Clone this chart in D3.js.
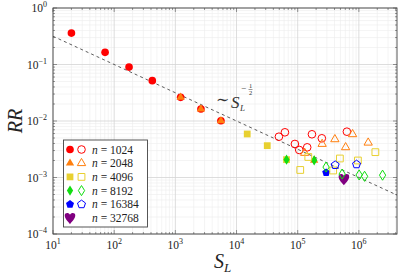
<!DOCTYPE html>
<html>
<head>
<meta charset="utf-8">
<script src="https://cdn.jsdelivr.net/npm/d3@7"></script>
<style>
  body { margin: 0; background: #fff; }
</style>
</head>
<body>
<svg id="chart" width="398" height="276" font-family="'Liberation Serif', 'DejaVu Serif', serif"></svg>
<script>
// data: [S_L, RR]
const n1024Filled = [[20, 0.36], [71, 0.164], [175, 0.090], [420, 0.0517], [1220, 0.0262], [2620, 0.0163], [5560, 0.0101]];
const n1024Open = [[49300, 0.00527], [61800, 0.00631], [90000, 0.00392], [106000, 0.00307], [143000, 0.00342], [171000, 0.00582], [248000, 0.00494], [637000, 0.00647]];
const n2048Filled = [[1220, 0.0262], [2620, 0.0163], [5560, 0.0101], [186000, 0.00201]];
const n2048Open = [[130000, 0.00272], [251000, 0.00392], [405000, 0.00474], [607000, 0.00342], [789000, 0.00582], [1420000, 0.00413]];
const n4096Filled = [[14960, 0.00589], [31800, 0.00366], [65700, 0.00207]];
const n4096Open = [[110000, 0.00136], [149000, 0.00231], [380000, 0.00133], [489000, 0.00217], [964000, 0.00200], [1860000, 0.00281]];
const n8192Filled = [[65700, 0.00207], [186000, 0.00201]];
const n8192Open = [[291000, 0.00153], [533000, 0.00115], [1010000, 0.00111], [1240000, 0.00105], [2440000, 0.00110]];
const n16384Filled = [[292000, 0.00122]];
const n16384Open = [[410000, 0.00166], [916000, 0.00171]];
const n32768Filled = [[569000, 0.00094]];

const legendLabels = ['1024', '2048', '4096', '8192', '16384', '32768'];
const xTickExps = [1, 2, 3, 4, 5, 6];
const yTickExps = [0, -1, -2, -3, -4];

const svg = d3.select('#chart');
const pLeft = 53, pRight = 397, pTop = 8, pBottom = 234;

const x = d3.scaleLog().domain([10, 4.2e6]).range([pLeft, pRight]);
const y = d3.scaleLog().domain([1e-4, 1]).range([pBottom, pTop]);

// custom symbols
const pentagon = {
  draw(ctx, size) {
    const r = Math.sqrt(size / 2.38);
    for (let i = 0; i < 5; i++) {
      const a = -Math.PI / 2 + i * 2 * Math.PI / 5;
      const px = r * Math.cos(a), py = r * Math.sin(a);
      if (i === 0) ctx.moveTo(px, py); else ctx.lineTo(px, py);
    }
    ctx.closePath();
  },
};
const thinDiamond = {
  draw(ctx, size) {
    const h = Math.sqrt(size) * 0.8, w = h * 0.62;
    ctx.moveTo(0, -h); ctx.lineTo(w, 0); ctx.lineTo(0, h); ctx.lineTo(-w, 0); ctx.closePath();
  },
};
const heart = {
  draw(ctx, size) {
    const s = Math.sqrt(size) / 9;
    ctx.moveTo(0, 6 * s);
    ctx.bezierCurveTo(-2 * s, 3 * s, -5 * s, 1 * s, -5 * s, -2.5 * s);
    ctx.bezierCurveTo(-5 * s, -5.5 * s, -1 * s, -5.5 * s, 0, -3 * s);
    ctx.bezierCurveTo(1 * s, -5.5 * s, 5 * s, -5.5 * s, 5 * s, -2.5 * s);
    ctx.bezierCurveTo(5 * s, 1 * s, 2 * s, 3 * s, 0, 6 * s);
    ctx.closePath();
  },
};

const series = [
  { filled: n1024Filled, open: n1024Open, color: '#ff0000', type: d3.symbolCircle, size: 46 },
  { filled: n2048Filled, open: n2048Open, color: '#ff7f0e', type: d3.symbolTriangle, size: 30 },
  { filled: n4096Filled, open: n4096Open, color: '#e8d030', type: d3.symbolSquare, size: 46 },
  { filled: n8192Filled, open: n8192Open, color: '#11dd11', type: thinDiamond, size: 40 },
  { filled: n16384Filled, open: n16384Open, color: '#0000ff', type: pentagon, size: 42 },
  { filled: n32768Filled, open: [], color: '#800080', type: heart, size: 90 },
];

// grid
const grid = svg.append('g');
const xMinor = [];
for (let e = 1; e <= 6; e++) for (let m = 2; m <= 9; m++) if (m * 10 ** e <= 4.2e6) xMinor.push(m * 10 ** e);
const yMinor = [];
for (let e = -4; e < 0; e++) for (let m = 2; m <= 9; m++) yMinor.push(m * 10 ** e);
const xMajor = xTickExps.map((e) => 10 ** e);
const yMajor = yTickExps.map((e) => 10 ** e);

grid.selectAll('.xm').data(xMinor).enter().append('line')
  .attr('x1', (d) => x(d)).attr('x2', (d) => x(d)).attr('y1', pTop).attr('y2', pBottom)
  .attr('stroke', '#ececec').attr('stroke-width', 0.6);
grid.selectAll('.ym').data(yMinor).enter().append('line')
  .attr('y1', (d) => y(d)).attr('y2', (d) => y(d)).attr('x1', pLeft).attr('x2', pRight)
  .attr('stroke', '#ececec').attr('stroke-width', 0.6);
grid.selectAll('.xM').data(xMajor).enter().append('line')
  .attr('x1', (d) => x(d)).attr('x2', (d) => x(d)).attr('y1', pTop).attr('y2', pBottom)
  .attr('stroke', '#d4d4d4').attr('stroke-width', 0.8);
grid.selectAll('.yM').data(yMajor).enter().append('line')
  .attr('y1', (d) => y(d)).attr('y2', (d) => y(d)).attr('x1', pLeft).attr('x2', pRight)
  .attr('stroke', '#d4d4d4').attr('stroke-width', 0.8);

// ticks inside on all four sides
const ticks = svg.append('g').attr('stroke', '#555').attr('stroke-width', 0.6);
[[xMinor, 2], [xMajor, 4]].forEach(([vals, len]) => {
  ticks.selectAll(null).data(vals).enter().append('line')
    .attr('x1', (d) => x(d)).attr('x2', (d) => x(d)).attr('y1', pBottom).attr('y2', pBottom - len);
  ticks.selectAll(null).data(vals).enter().append('line')
    .attr('x1', (d) => x(d)).attr('x2', (d) => x(d)).attr('y1', pTop).attr('y2', pTop + len);
});
[[yMinor, 2], [yMajor, 4]].forEach(([vals, len]) => {
  ticks.selectAll(null).data(vals).enter().append('line')
    .attr('y1', (d) => y(d)).attr('y2', (d) => y(d)).attr('x1', pLeft).attr('x2', pLeft + len);
  ticks.selectAll(null).data(vals).enter().append('line')
    .attr('y1', (d) => y(d)).attr('y2', (d) => y(d)).attr('x1', pRight).attr('x2', pRight - len);
});

// tick labels
const xLab = svg.append('g').selectAll('text').data(xTickExps).enter().append('text')
  .attr('x', (d) => x(10 ** d)).attr('y', pBottom + 15).attr('text-anchor', 'middle')
  .attr('fill', '#222').style('font-size', '11.5px');
xLab.append('tspan').text('10');
xLab.append('tspan').attr('dy', -5).style('font-size', '8px').text((d) => d);

const yLab = svg.append('g').selectAll('text').data(yTickExps).enter().append('text')
  .attr('x', pLeft - 6).attr('y', (d) => y(10 ** d) + 4).attr('text-anchor', 'end')
  .attr('fill', '#222').style('font-size', '11.5px');
yLab.append('tspan').text('10');
yLab.append('tspan').attr('dy', -5).style('font-size', '8px').text((d) => (d < 0 ? `\u2212${-d}` : d));

// reference line RR ~ S_L^{-1/2}
const lineS = [10, 4.2e6];
svg.append('path')
  .attr('d', d3.line().x((d) => x(d)).y((d) => y(d ** -0.5))(lineS))
  .attr('fill', 'none').attr('stroke', '#333').attr('stroke-width', 0.8).attr('stroke-dasharray', '3,3');

const ann = svg.append('g').attr('fill', '#333');
ann.append('text').attr('x', 216).attr('y', 105).style('font-size', '16px').text('\u223C');
ann.append('text').attr('x', 231).attr('y', 107.5).style('font-size', '17px').style('font-style', 'italic').text('S');
ann.append('text').attr('x', 240).attr('y', 110.5).style('font-size', '9px').style('font-style', 'italic').text('L');
ann.append('text').attr('x', 241).attr('y', 91).style('font-size', '9px').text('\u2212');
ann.append('text').attr('x', 250.5).attr('y', 88).attr('text-anchor', 'middle').style('font-size', '6.5px').text('1');
ann.append('line').attr('x1', 248.5).attr('x2', 252.5).attr('y1', 89.5).attr('y2', 89.5).attr('stroke', '#333').attr('stroke-width', 0.5);
ann.append('text').attr('x', 250.5).attr('y', 95).attr('text-anchor', 'middle').style('font-size', '6.5px').text('2');

// markers
const sym = d3.symbol();
const marks = svg.append('g');
series.forEach((s) => {
  marks.selectAll(null).data(s.filled).enter().append('path')
    .attr('transform', (d) => `translate(${x(d[0])},${y(d[1])})`)
    .attr('d', sym.type(s.type).size(s.size)())
    .attr('fill', s.color);
});
series.forEach((s) => {
  marks.selectAll(null).data(s.open).enter().append('path')
    .attr('transform', (d) => `translate(${x(d[0])},${y(d[1])})`)
    .attr('d', sym.type(s.type).size(s.size)())
    .attr('fill', 'none').attr('stroke', s.color).attr('stroke-width', 1);
});

// frame
svg.append('rect').attr('x', pLeft).attr('y', pTop).attr('width', pRight - pLeft).attr('height', pBottom - pTop)
  .attr('fill', 'none').attr('stroke', '#444').attr('stroke-width', 0.9);

// legend
const lg = svg.append('g');
lg.append('rect').attr('x', 63.5).attr('y', 140).attr('width', 84).attr('height', 87)
  .attr('fill', '#fff').attr('stroke', '#444').attr('stroke-width', 0.9);
series.forEach((s, i) => {
  const ly = 149.5 + i * 13.7;
  lg.append('path').attr('transform', `translate(70,${ly})`)
    .attr('d', sym.type(s.type).size(s.size)()).attr('fill', s.color);
  if (s.open.length) {
    lg.append('path').attr('transform', `translate(81.5,${ly})`)
      .attr('d', sym.type(s.type).size(s.size)()).attr('fill', 'none').attr('stroke', s.color);
  }
  const t = lg.append('text').attr('x', 92).attr('y', ly + 4).attr('fill', '#222').style('font-size', '11.5px');
  t.append('tspan').style('font-style', 'italic').text('n');
  t.append('tspan').text(` = ${legendLabels[i]}`);
});

// axis titles
svg.append('text').attr('transform', 'translate(22,121) rotate(-90)').attr('text-anchor', 'middle')
  .attr('fill', '#222').style('font-size', '20px').style('font-style', 'italic').text('RR');
const xt = svg.append('text').attr('x', 214).attr('y', 268).attr('fill', '#222').style('font-size', '20px');
xt.append('tspan').style('font-style', 'italic').text('S');
xt.append('tspan').attr('dy', 4).style('font-size', '13px').style('font-style', 'italic').text('L');
</script>
</body>
</html>
